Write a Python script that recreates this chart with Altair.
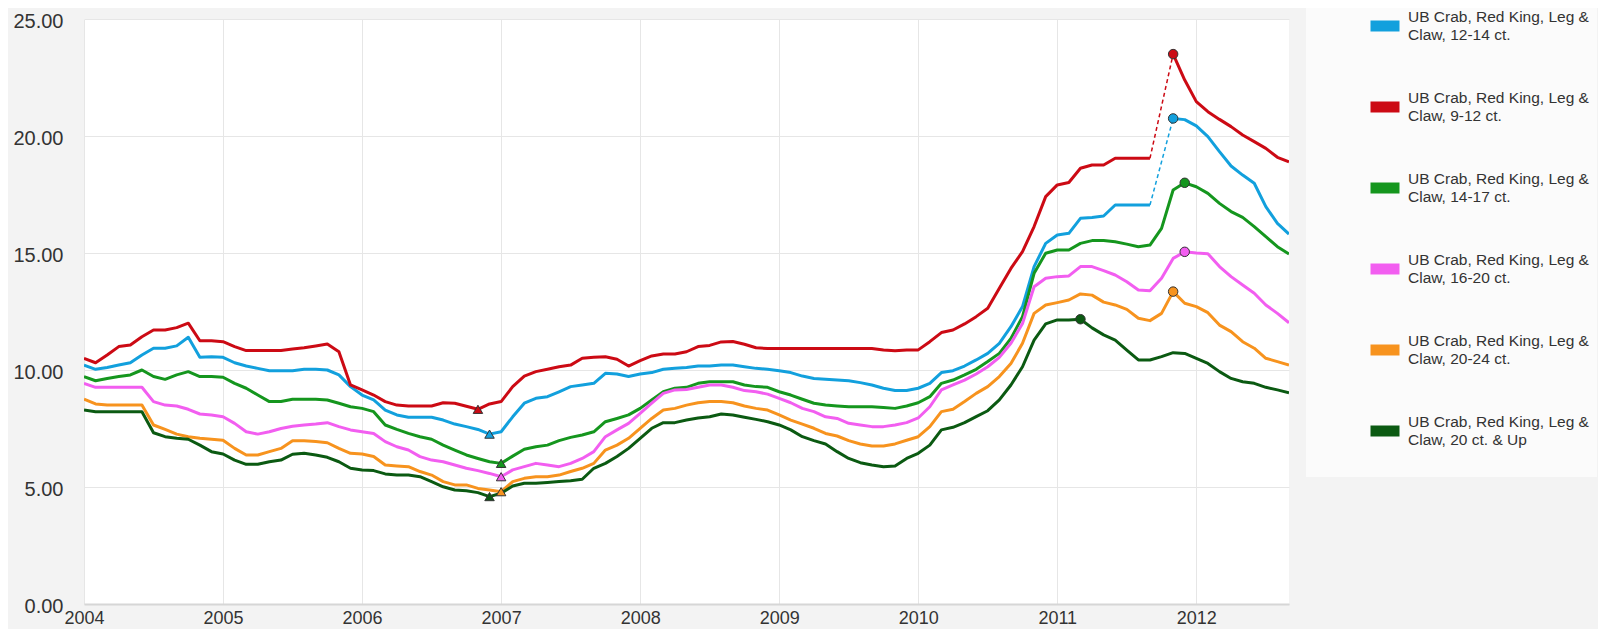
import altair as alt
import pandas as pd

start_year = 2004

names = [
    "UB Crab, Red King, Leg & Claw, 12-14 ct.",
    "UB Crab, Red King, Leg & Claw, 9-12 ct.",
    "UB Crab, Red King, Leg & Claw, 14-17 ct.",
    "UB Crab, Red King, Leg & Claw, 16-20 ct.",
    "UB Crab, Red King, Leg & Claw, 20-24 ct.",
    "UB Crab, Red King, Leg & Claw, 20 ct. & Up",
]
colors = ["#12a0dd", "#cc0a14", "#15961e", "#f25ef0", "#f7931e", "#0b5a12"]
year_ticks = list(range(2004, 2013))
y_ticks = [0, 5, 10, 15, 20, 25]

# monthly values, Jan 2004 .. Sep 2012 (None = missing month)
ct_12_14 = [
    10.21, 10.03, 10.11, 10.21, 10.31, 10.64, 10.93, 10.93, 11.03, 11.4, 10.54, 10.57, 10.54, 10.31, 10.17, 10.07, 9.97, 9.97, 9.97,
    10.03, 10.03, 10.0, 9.79, 9.29, 8.93, 8.72, 8.29, 8.08, 7.98, 7.98, 7.98, 7.86, 7.69, 7.58, 7.46, 7.26,
    7.36, 8.0, 8.58, 8.79, 8.86, 9.07, 9.29, 9.36, 9.43, 9.86, 9.83, 9.72, 9.83, 9.89, 10.03, 10.07, 10.11, 10.17,
    10.17, 10.21, 10.21, 10.14, 10.07, 10.03, 9.97, 9.89, 9.74, 9.64, 9.6, 9.57, 9.54, 9.46, 9.36, 9.22, 9.12,
    9.12, 9.22, 9.43, 9.89, 9.97, 10.17, 10.43, 10.71, 11.14, 11.85, 12.71, 14.42, 15.41, 15.77, 15.84, 16.48, 16.52, 16.58,
    17.05, 17.05, 17.05, 17.05, None, 20.75, 20.7, 20.43, 19.97, 19.33, 18.72, 18.33, 17.98, 16.98, 16.27, 15.81,
]
ct_9_12 = [
    10.5, 10.31, 10.64, 11.0, 11.07, 11.42, 11.71, 11.71, 11.81, 12.0, 11.25, 11.25, 11.21, 11.0, 10.83, 10.83, 10.83, 10.83, 10.9,
    10.95, 11.03, 11.11, 10.78, 9.36, 9.15, 8.93, 8.65, 8.5, 8.46, 8.46, 8.46, 8.6, 8.58, 8.45, 8.32, 8.55,
    8.65, 9.29, 9.74, 9.93, 10.03, 10.14, 10.21, 10.5, 10.54, 10.57, 10.46, 10.17, 10.4, 10.6, 10.68, 10.68, 10.78, 11.0,
    11.05, 11.2, 11.22, 11.1, 10.95, 10.92, 10.92, 10.92, 10.92, 10.92, 10.92, 10.92, 10.92, 10.92, 10.92, 10.85, 10.82,
    10.85, 10.86, 11.21, 11.6, 11.71, 11.97, 12.28, 12.64, 13.49, 14.34, 15.06, 16.13, 17.41, 17.91, 18.01, 18.62, 18.76, 18.76,
    19.05, 19.05, 19.05, 19.05, None, 23.5, 22.39, 21.47, 21.04, 20.71, 20.4, 20.04, 19.76, 19.47, 19.09, 18.9,
]
ct_14_17 = [
    9.72, 9.54, 9.64, 9.72, 9.79, 10.0, 9.72, 9.6, 9.79, 9.93, 9.72, 9.72, 9.69, 9.43, 9.22, 8.93, 8.65, 8.65, 8.75,
    8.75, 8.75, 8.72, 8.58, 8.43, 8.36, 8.22, 7.65, 7.46, 7.29, 7.15, 7.04, 6.79, 6.58, 6.37, 6.22, 6.08,
    6.01, 6.32, 6.61, 6.72, 6.79, 6.98, 7.12, 7.22, 7.36, 7.79, 7.93, 8.08, 8.36, 8.72, 9.07, 9.22, 9.26, 9.43,
    9.5, 9.5, 9.5, 9.36, 9.29, 9.26, 9.07, 8.93, 8.75, 8.58, 8.5, 8.46, 8.43, 8.43, 8.43, 8.4, 8.36,
    8.46, 8.6, 8.86, 9.43, 9.57, 9.79, 10.03, 10.36, 10.71, 11.35, 12.28, 14.13, 14.99, 15.13, 15.13, 15.41, 15.53, 15.53,
    15.48, 15.38, 15.27, 15.34, 16.05, 17.69, 18.0, 17.83, 17.55, 17.12, 16.77, 16.52, 16.13, 15.7, 15.27, 14.96,
]
ct_16_20 = [
    9.43, 9.26, 9.26, 9.26, 9.26, 9.26, 8.65, 8.5, 8.46, 8.32, 8.12, 8.08, 8.0, 7.72, 7.36, 7.26, 7.36, 7.5, 7.6,
    7.65, 7.69, 7.75, 7.58, 7.44, 7.36, 7.29, 6.94, 6.72, 6.58, 6.3, 6.15, 6.08, 5.94, 5.8, 5.7, 5.58,
    5.44, 5.73, 5.87, 6.01, 5.94, 5.87, 6.01, 6.22, 6.51, 7.15, 7.44, 7.72, 8.15, 8.58, 9.0, 9.15, 9.17, 9.26,
    9.36, 9.36, 9.26, 9.12, 9.07, 8.97, 8.79, 8.6, 8.36, 8.22, 8.0, 7.93, 7.72, 7.65, 7.58, 7.58, 7.65,
    7.75, 7.95, 8.43, 9.15, 9.36, 9.57, 9.83, 10.14, 10.54, 11.14, 11.99, 13.56, 13.92, 13.99, 14.02, 14.42, 14.42, 14.25,
    14.06, 13.77, 13.42, 13.39, 13.92, 14.77, 15.05, 15.0, 14.97, 14.42, 13.99, 13.63, 13.28, 12.78, 12.42, 12.02,
]
ct_20_24 = [
    8.75, 8.55, 8.5, 8.5, 8.5, 8.5, 7.65, 7.46, 7.26, 7.15, 7.08, 7.04, 7.0, 6.65, 6.37, 6.37, 6.51, 6.65, 6.98,
    6.98, 6.94, 6.89, 6.65, 6.44, 6.41, 6.3, 5.94, 5.9, 5.87, 5.66, 5.51, 5.23, 5.09, 5.09, 4.94, 4.87,
    4.8, 5.23, 5.37, 5.44, 5.44, 5.51, 5.66, 5.8, 6.01, 6.58, 6.79, 7.08, 7.51, 7.93, 8.29, 8.36, 8.5, 8.6,
    8.65, 8.65, 8.6, 8.46, 8.36, 8.29, 8.08, 7.86, 7.69, 7.51, 7.29, 7.18, 6.98, 6.84, 6.75, 6.75, 6.84,
    7.0, 7.15, 7.58, 8.22, 8.32, 8.65, 9.0, 9.29, 9.72, 10.28, 11.14, 12.42, 12.78, 12.88, 12.99, 13.25, 13.2, 12.9,
    12.78, 12.59, 12.21, 12.11, 12.42, 13.35, 12.85, 12.71, 12.45, 11.92, 11.64, 11.21, 10.93, 10.5, 10.36, 10.21,
]
ct_20_up = [
    8.29, 8.22, 8.22, 8.22, 8.22, 8.22, 7.32, 7.15, 7.08, 7.04, 6.79, 6.51, 6.41, 6.15, 5.97, 5.97, 6.08, 6.15, 6.4,
    6.44, 6.37, 6.27, 6.08, 5.8, 5.73, 5.7, 5.56, 5.51, 5.51, 5.44, 5.23, 5.01, 4.87, 4.84, 4.76, 4.59,
    4.73, 5.04, 5.16, 5.16, 5.19, 5.23, 5.27, 5.33, 5.8, 6.01, 6.3, 6.65, 7.08, 7.51, 7.75, 7.75, 7.86, 7.95,
    8.0, 8.12, 8.08, 7.98, 7.89, 7.79, 7.65, 7.44, 7.15, 6.98, 6.84, 6.51, 6.22, 6.04, 5.94, 5.87, 5.9,
    6.22, 6.44, 6.79, 7.44, 7.55, 7.75, 8.01, 8.26, 8.72, 9.36, 10.14, 11.28, 11.97, 12.14, 12.14, 12.17, 11.8, 11.5,
    11.28, 10.85, 10.43, 10.43, 10.57, 10.74, 10.71, 10.5, 10.28, 9.93, 9.64, 9.5, 9.43, 9.26, 9.15, 9.03,
]
series = [ct_12_14, ct_9_12, ct_14_17, ct_16_20, ct_20_24, ct_20_up]

rows, gaps, marks = [], [], []
for name, vals in zip(names, series):
    seg = 0
    prev = None
    pending = False
    for i, v in enumerate(vals):
        t = start_year + i / 12
        if v is None:
            seg += 1
            pending = True
            continue
        rows.append({"series": name, "t": t, "v": v, "seg": f"{name}#{seg}"})
        if pending and prev is not None:
            gaps.append({"series": name, "t": prev[0], "v": prev[1]})
            gaps.append({"series": name, "t": t, "v": v})
            pending = False
        prev = (t, v)
    s = pd.Series(vals, dtype=float)
    for kind, idx in (("min", s.idxmin()), ("max", s.idxmax())):
        marks.append({"series": name, "t": start_year + idx / 12, "v": s[idx], "kind": kind})

df = pd.DataFrame(rows)
gap_df = pd.DataFrame(gaps)
mark_df = pd.DataFrame(marks)

FONT = "Liberation Sans"
color_scale = alt.Scale(domain=names, range=colors)
x_scale = alt.Scale(domain=[2004, 2004 + 104 / 12], nice=False, zero=False)
y_scale = alt.Scale(domain=[0, 25], nice=False, zero=True)

x_enc = alt.X(
    "t:Q", scale=x_scale, title=None,
    axis=alt.Axis(values=year_ticks, format="d", grid=True, gridColor="#e6e6e6",
                  ticks=False, tickSize=0, domain=True, domainColor="#d6d6d6", domainWidth=2,
                  labelFont=FONT, labelFontSize=18, labelColor="#333333", labelPadding=5,
                  labelFlush=False, labelOverlap=False),
)
y_enc = alt.Y(
    "v:Q", scale=y_scale, title=None,
    axis=alt.Axis(values=y_ticks, format=".2f", grid=True, gridColor="#e6e6e6",
                  ticks=False, tickSize=0, domain=False, labelOffset=2,
                  labelFont=FONT, labelFontSize=20, labelColor="#333333", labelPadding=21),
)

legend = alt.Legend(
    title=" ", titleOrient="bottom", titleFontSize=8, titlePadding=8,
    orient="none", legendX=1222, legendY=-21,
    direction="vertical", padding=8, fillColor="#fbfbfb",
    symbolType="stroke", symbolSize=841, symbolStrokeWidth=11, symbolOffset=51,
    labelOffset=3, labelFont=FONT, labelFontSize=15.5, labelColor="#333333",
    labelBaseline="line-bottom",
    labelLimit=400, rowPadding=37,
    labelExpr="[slice(datum.label, 0, 24), slice(datum.label, 25)]",
)

lines = alt.Chart(df).mark_line(strokeWidth=3, strokeJoin="round", clip=True).encode(
    x=x_enc, y=y_enc,
    color=alt.Color("series:N", scale=color_scale, legend=legend),
    detail="seg:N",
)
dashed = alt.Chart(gap_df).mark_line(strokeWidth=1.5, strokeDash=[4, 3]).encode(
    x="t:Q", y="v:Q",
    color=alt.Color("series:N", scale=color_scale, legend=None),
    detail="series:N",
)
points = alt.Chart(mark_df).mark_point(filled=True, size=90, stroke="#333333", strokeWidth=1, opacity=1).encode(
    x="t:Q", y="v:Q",
    fill=alt.Fill("series:N", scale=color_scale, legend=None),
    shape=alt.Shape("kind:N", scale=alt.Scale(domain=["min", "max"], range=["triangle-up", "circle"]), legend=None),
)

chart = alt.layer(lines, dashed, points).properties(
    width=1205, height=585,
    autosize=alt.AutoSizeParams(type="none"),
    padding={"left": 76, "top": 11, "right": 309, "bottom": 25},
    background="#f3f3f3",
).configure_view(fill="white", stroke=None)

chart.save("out.html", embed_options={"renderer": "svg", "actions": False})
